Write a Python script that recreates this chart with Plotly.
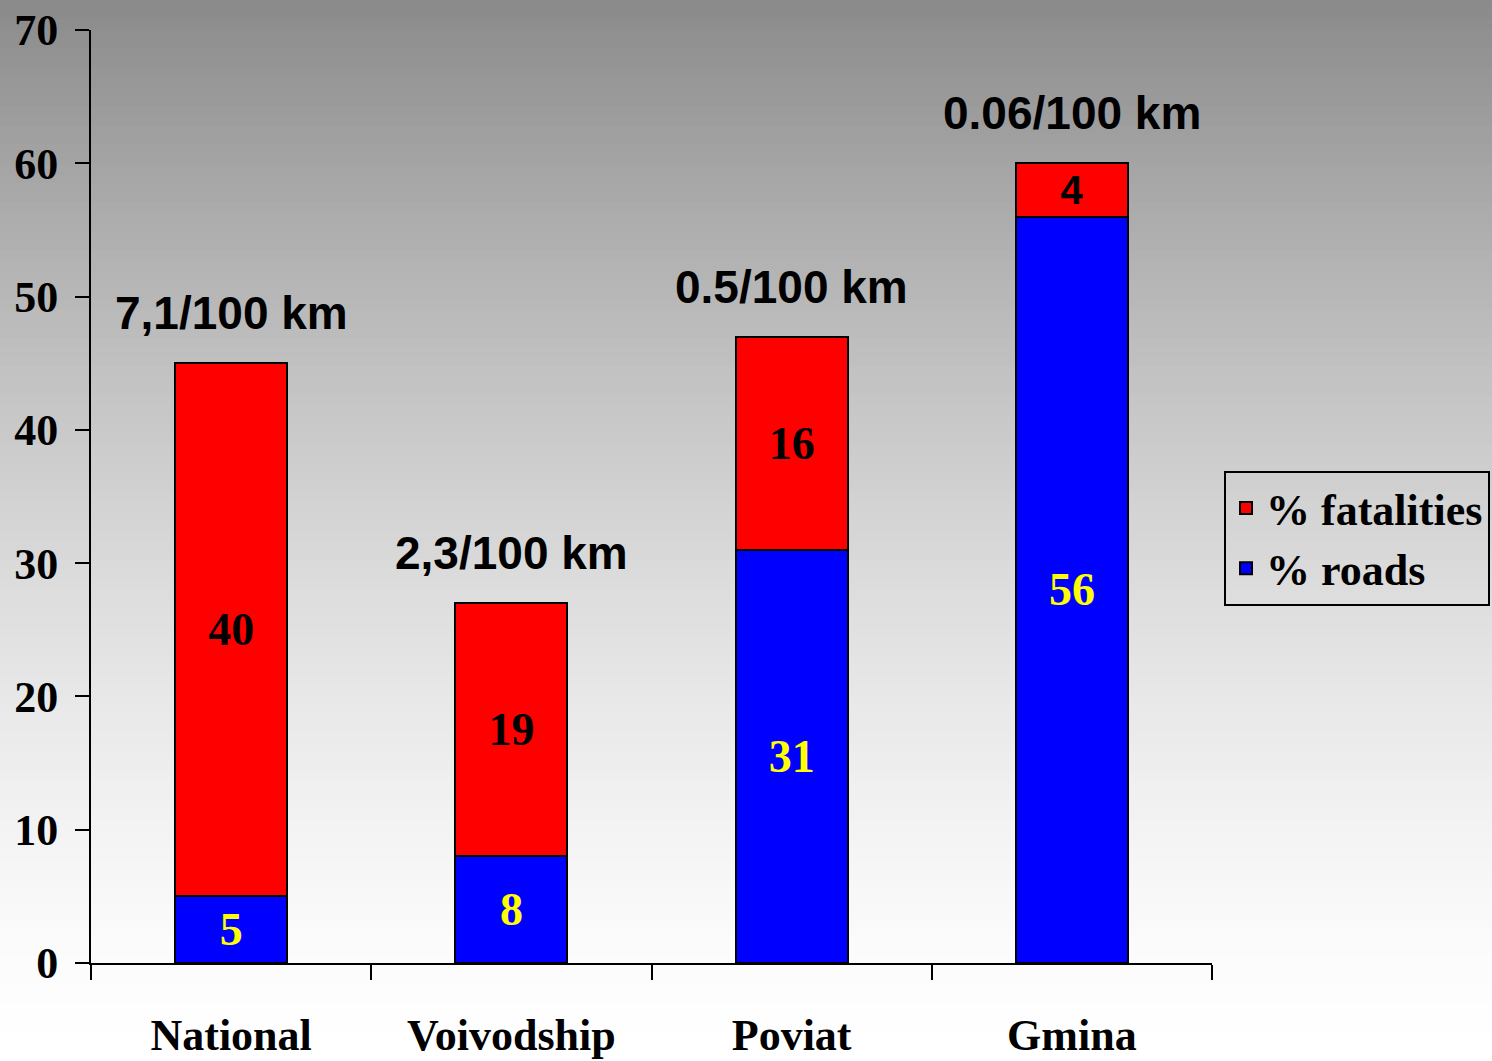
import plotly.graph_objects as go

categories = ["National", "Voivodship", "Poviat", "Gmina"]
roads_pct = [5, 8, 31, 56]
fatalities_pct = [40, 19, 16, 4]
density_labels = ["7,1/100 km", "2,3/100 km", "0.5/100 km", "0.06/100 km"]
y_ticks = [0, 10, 20, 30, 40, 50, 60, 70]

W, H = 1492, 1061
ML, MR, MT, MB = 91, 280, 30, 98
PW, PH = W - ML - MR, H - MT - MB

SERIF = "Liberation Serif, Times New Roman, serif"
SANS = "Liberation Sans, Arial, sans-serif"

fig = go.Figure()
fig.add_trace(go.Bar(
    name="% roads", x=categories, y=roads_pct,
    marker=dict(color="#0000ff", line=dict(color="black", width=2)),
    text=[str(v) for v in roads_pct], textposition="inside",
    insidetextanchor="middle", constraintext="none", textangle=0,
    textfont=dict(family=SERIF, size=46, color="#ffff00", weight="bold"),
    width=0.4,
))
fig.add_trace(go.Bar(
    name="% fatalities", x=categories, y=fatalities_pct,
    marker=dict(color="#ff0000", line=dict(color="black", width=2)),
    text=[str(v) for v in fatalities_pct], textposition="inside",
    insidetextanchor="middle", constraintext="none", textangle=0,
    textfont=dict(family=[SERIF, SERIF, SERIF, SANS],
                  size=[46, 46, 46, 40], color="black", weight="bold"),
    width=0.4,
))

# density annotations above each stacked bar
for cat, r, f, lab in zip(categories, roads_pct, fatalities_pct, density_labels):
    fig.add_annotation(x=cat, y=r + f, text=lab, showarrow=False,
                       yanchor="bottom", xanchor="center", yshift=22,
                       font=dict(family=SANS, size=46, color="black", weight="bold"))

# vertical gray-to-white gradient background (styling only)
def px_to_paper_y(py):
    return (H - MB - py) / PH

def px_to_paper_x(px):
    return (px - ML) / PW

shapes = []
nb = 110
for i in range(nb):
    y0p = i * H / nb
    y1p = (i + 1) * H / nb + 1
    t = (i + 0.5) / nb
    c = int(round(255 - 117 * (1 - t) ** 1.5))
    shapes.append(dict(type="rect", xref="paper", yref="paper",
                       x0=px_to_paper_x(-2), x1=px_to_paper_x(W + 2),
                       y0=px_to_paper_y(y1p), y1=px_to_paper_y(y0p - 2 if i == 0 else y0p),
                       fillcolor=f"rgb({c},{c},{c})", line=dict(width=0),
                       layer="below"))

fig.update_layout(
    width=W, height=H,
    margin=dict(l=ML, r=MR, t=MT, b=MB, autoexpand=False),
    paper_bgcolor="white", plot_bgcolor="rgba(0,0,0,0)",
    barmode="stack", bargap=0.6,
    shapes=shapes,
    showlegend=True,
    legend=dict(x=px_to_paper_x(1224), y=px_to_paper_y(471),
                xanchor="left", yanchor="top", traceorder="reversed",
                bgcolor="rgba(0,0,0,0)", bordercolor="black", borderwidth=2,
                font=dict(family=SERIF, size=44, color="black", weight="bold")),
    xaxis=dict(range=[-0.5, 3.5], showline=True, linecolor="black", linewidth=2,
               ticks="outside", tickson="boundaries", ticklen=15, tickwidth=2,
               tickcolor="black", showgrid=False, zeroline=False,
               ticklabelstandoff=32,
               tickfont=dict(family=SERIF, size=44, color="black", weight="bold")),
    yaxis=dict(range=[0, 70], tickvals=y_ticks, showline=True, linecolor="black",
               linewidth=2, ticks="outside", ticklen=14, tickwidth=2,
               tickcolor="black", showgrid=False, zeroline=False,
               ticklabelstandoff=8,
               tickfont=dict(family=SERIF, size=44, color="black", weight="bold")),
)

fig.write_html("out.html",
               config={"displayModeBar": False},
               post_script="document.body.style.margin='0';document.body.style.overflow='hidden';")
